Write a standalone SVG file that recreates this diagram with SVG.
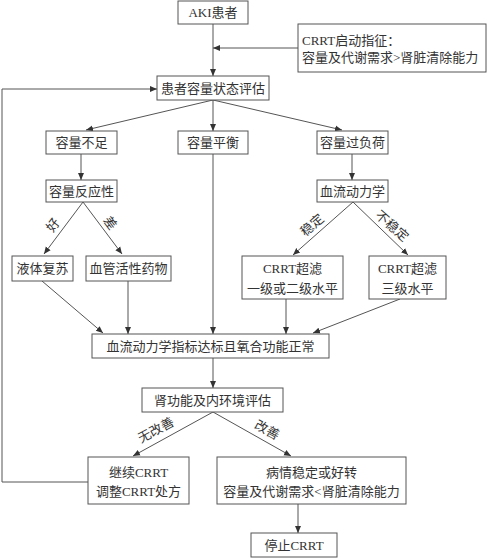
<svg xmlns="http://www.w3.org/2000/svg" width="487" height="558" viewBox="0 0 487 558">
<defs>
<marker id="ah" markerUnits="userSpaceOnUse" markerWidth="8" markerHeight="8" refX="7" refY="4" orient="auto">
<path d="M0,1 L7,4 L0,7 Z" fill="#333"/>
</marker>
<style>
.b{fill:#fff;stroke:#555;stroke-width:1}
.t{font-family:"Liberation Serif","Noto Sans CJK SC",serif;font-size:13px;fill:#333;text-anchor:middle;dominant-baseline:central}
.l{font-family:"Liberation Serif","Noto Sans CJK SC",serif;font-size:13px;fill:#333;text-anchor:middle;dominant-baseline:central}
.c{fill:none;stroke:#555;stroke-width:1}
.a{marker-end:url(#ah)}
</style>
</defs>
<rect width="487" height="558" fill="#fff"/>
<g id="connectors">
<line class="c a" x1="213" y1="24" x2="213" y2="76"/>
<line class="c a" x1="298" y1="48" x2="213" y2="48"/>
<line class="c a" x1="213" y1="100" x2="86" y2="130"/>
<line class="c a" x1="213" y1="100" x2="213" y2="131"/>
<line class="c a" x1="213" y1="100" x2="342" y2="130"/>
<line class="c a" x1="81" y1="154" x2="81" y2="180"/>
<line class="c a" x1="352" y1="154" x2="352" y2="180"/>
<line class="c a" x1="83" y1="202" x2="44" y2="254"/>
<line class="c a" x1="83" y1="202" x2="122" y2="254"/>
<line class="c a" x1="353" y1="202" x2="293" y2="255"/>
<line class="c a" x1="353" y1="202" x2="408" y2="255"/>
<line class="c a" x1="42" y1="281" x2="103" y2="333"/>
<line class="c a" x1="128" y1="281" x2="128" y2="334"/>
<line class="c a" x1="213" y1="154" x2="213" y2="334"/>
<line class="c a" x1="286" y1="299" x2="286" y2="334"/>
<line class="c a" x1="400" y1="299" x2="313" y2="333"/>
<line class="c a" x1="213" y1="358" x2="213" y2="388"/>
<line class="c a" x1="213" y1="412" x2="133" y2="456"/>
<line class="c a" x1="213" y1="412" x2="291" y2="456"/>
<line class="c a" x1="298" y1="504" x2="298" y2="533"/>
<polyline class="c a" points="88,482 2,482 2,89 157,89"/>
<text class="l" transform="translate(53,225) rotate(-53)">好</text>
<text class="l" transform="translate(110,223) rotate(53)">差</text>
<text class="l" transform="translate(312,225) rotate(-41)">稳定</text>
<text class="l" transform="translate(392,226) rotate(41)">不稳定</text>
<text class="l" transform="translate(156,430) rotate(-28)">无改善</text>
<text class="l" transform="translate(267,430) rotate(28)">改善</text>
</g>
<g id="n_aki"><rect class="b" x="178" y="1" width="70" height="23"/><text class="t" x="213" y="12.5">AKI患者</text></g>
<g id="n_crrt_ind"><rect class="b" x="298" y="24" width="188" height="48"/>
<text class="t" x="302" y="40" style="text-anchor:start">CRRT启动指征：</text>
<text class="t" x="302" y="57" style="text-anchor:start">容量及代谢需求&gt;肾脏清除能力</text></g>
<g id="n_assess"><rect class="b" x="157" y="76" width="112" height="24"/><text class="t" x="213" y="88">患者容量状态评估</text></g>
<g id="n_low"><rect class="b" x="46" y="131" width="71" height="23"/><text class="t" x="81.5" y="142.5">容量不足</text></g>
<g id="n_bal"><rect class="b" x="178" y="131" width="70" height="23"/><text class="t" x="213" y="142.5">容量平衡</text></g>
<g id="n_over"><rect class="b" x="317" y="131" width="71" height="23"/><text class="t" x="352.5" y="142.5">容量过负荷</text></g>
<g id="n_resp"><rect class="b" x="46" y="180" width="71" height="22"/><text class="t" x="81.5" y="191">容量反应性</text></g>
<g id="n_hemo"><rect class="b" x="317" y="180" width="71" height="22"/><text class="t" x="352.5" y="191">血流动力学</text></g>
<g id="n_fluid"><rect class="b" x="12" y="256" width="61" height="25"/><text class="t" x="42.5" y="268.5">液体复苏</text></g>
<g id="n_vaso"><rect class="b" x="86" y="256" width="85" height="25"/><text class="t" x="128.5" y="268.5">血管活性药物</text></g>
<g id="n_uf12"><rect class="b" x="242" y="256" width="101" height="43"/><text class="t" x="292.5" y="268">CRRT超滤</text><text class="t" x="292.5" y="288">一级或二级水平</text></g>
<g id="n_uf3"><rect class="b" x="369" y="256" width="77" height="43"/><text class="t" x="407.5" y="268">CRRT超滤</text><text class="t" x="407.5" y="288">三级水平</text></g>
<g id="n_target"><rect class="b" x="92" y="334" width="237" height="24"/><text class="t" x="210.5" y="346">血流动力学指标达标且氧合功能正常</text></g>
<g id="n_renal"><rect class="b" x="142" y="388" width="141" height="24"/><text class="t" x="212.5" y="400">肾功能及内环境评估</text></g>
<g id="n_cont"><rect class="b" x="88" y="457" width="101" height="47"/><text class="t" x="138.5" y="472">继续CRRT</text><text class="t" x="138.5" y="491">调整CRRT处方</text></g>
<g id="n_stable"><rect class="b" x="217" y="457" width="189" height="47"/><text class="t" x="311.5" y="472">病情稳定或好转</text><text class="t" x="311.5" y="491">容量及代谢需求&lt;肾脏清除能力</text></g>
<g id="n_stop"><rect class="b" x="251" y="533" width="86" height="24"/><text class="t" x="294" y="545">停止CRRT</text></g>
</svg>
